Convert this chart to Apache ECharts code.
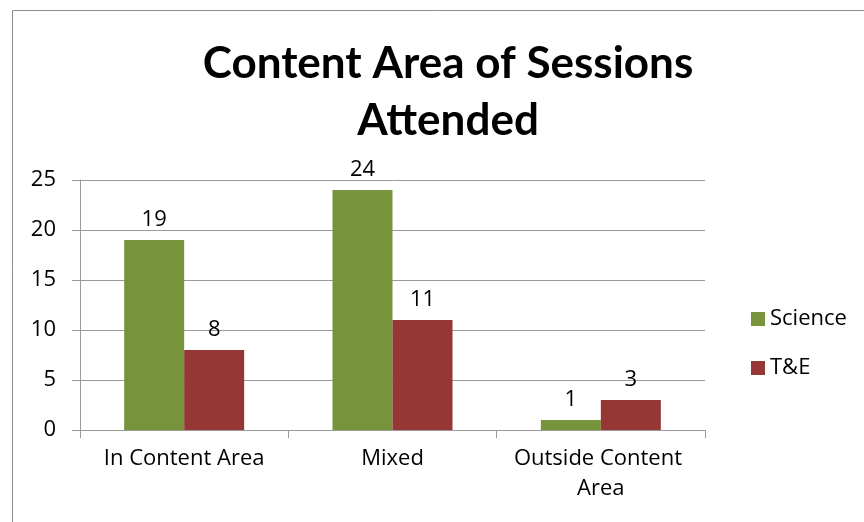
<!DOCTYPE html>
<html>
<head>
<meta charset="utf-8">
<script src="https://cdn.jsdelivr.net/npm/echarts@6/dist/echarts.min.js"></script>
<style>
	html, body { margin: 0; padding: 0; background: #fff; }
	#chart { width: 864px; height: 522px; }
</style>
</head>
<body>
<div id="chart"></div>
<script>
	var categories = ['In Content Area', 'Mixed', 'Outside Content Area'];
	var science = [19, 24, 1];
	var te = [8, 11, 3];
	var seriesNames = ['Science', 'T&E'];

	var font = '"Open Sans", Lato, sans-serif';
	var myChart = echarts.init(document.getElementById('chart'));
	myChart.setOption({
		animation: false,
		color: ['#77933C', '#953735'],
		title: {
			text: 'Content Area of Sessions\nAttended',
			left: 443,
			top: 30,
			textAlign: 'center',
			textStyle: {
				fontFamily: 'Lato, sans-serif',
				fontSize: 44,
				fontWeight: 'bold',
				color: '#000',
				lineHeight: 57
			}
		},
		graphic: [{
			type: 'rect',
			shape: { x: 12.5, y: 10.5, width: 900, height: 600 },
			style: { fill: 'none', stroke: '#8c8c8c', lineWidth: 1 },
			silent: true
		}],
		legend: {
			orient: 'vertical',
			left: 746,
			top: 303,
			itemWidth: 14,
			itemHeight: 14,
			itemGap: 27,
			icon: 'rect',
			textStyle: { fontFamily: font, fontSize: 22, color: '#000', lineHeight: 22 },
			data: seriesNames
		},
		grid: {
			left: 80,
			right: 159,
			top: 180,
			bottom: 92
		},
		xAxis: {
			type: 'category',
			data: categories,
			axisLine: { lineStyle: { color: '#9a9a9a' } },
			axisTick: { show: true, length: 8, lineStyle: { color: '#9a9a9a' } },
			axisLabel: {
				interval: 0,
				fontFamily: font,
				fontSize: 22,
				color: '#000',
				margin: 14,
				width: 200,
				overflow: 'break',
				lineHeight: 30
			}
		},
		yAxis: {
			type: 'value',
			min: 0,
			max: 25,
			interval: 5,
			axisLine: { show: true, lineStyle: { color: '#9a9a9a' } },
			axisTick: { show: true, length: 8, lineStyle: { color: '#9a9a9a' } },
			splitLine: { lineStyle: { color: '#9a9a9a' } },
			axisLabel: { fontFamily: font, fontSize: 22, color: '#000', margin: 24 }
		},
		series: [{
			name: seriesNames[0],
			type: 'bar',
			data: science,
			barWidth: 60,
			barGap: '0%',
			label: { show: true, position: 'top', distance: 9, fontFamily: font, fontSize: 22, color: '#000' }
		}, {
			name: seriesNames[1],
			type: 'bar',
			data: te,
			barWidth: 60,
			barGap: '0%',
			label: { show: true, position: 'top', distance: 9, fontFamily: font, fontSize: 22, color: '#000' }
		}]
	});
</script>
</body>
</html>
